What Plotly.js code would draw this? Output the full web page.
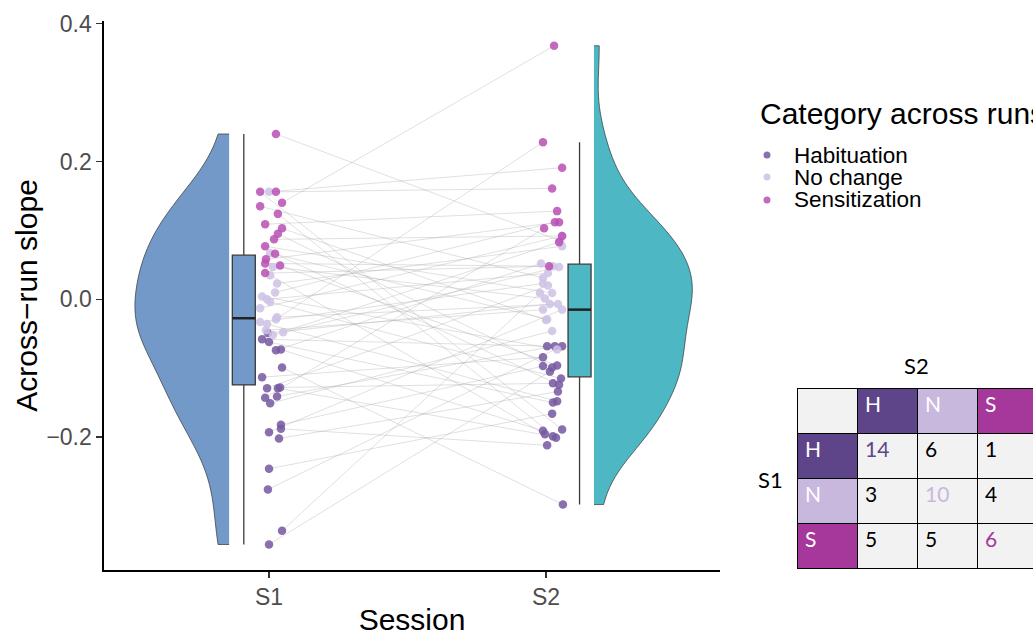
<!DOCTYPE html>
<html><head><meta charset="utf-8">
<script src="https://cdn.plot.ly/plotly-3.0.1.min.js"></script>
<style>html,body{margin:0;padding:0;background:#fff}#chart{width:1033px;height:636px}</style>
</head><body><div id="chart"></div>
<script>
// ---------------- data ----------------
const sessions = ['S1', 'S2'];
const catCodes = ['H', 'N', 'S'];
const catLabels = ['Habituation', 'No change', 'Sensitization'];

// one entry per participant (S1 value paired with S2 value)
const s1Slope = [-0.049,-0.058,-0.062,-0.074,-0.073,-0.099,-0.113,-0.129,-0.129,-0.128,-0.143,-0.141,-0.151,-0.182,-0.188,-0.193,-0.202,-0.246,-0.276,-0.336,-0.356,
  0.156,0.067,0.047,0.035,0.023,0.010,0.004,0.000,-0.004,-0.013,-0.026,-0.029,-0.033,-0.036,-0.048,-0.052,-0.045,
  0.240,0.156,0.156,0.140,0.135,0.124,0.109,0.103,0.095,0.087,0.077,0.066,0.058,0.052,0.049,0.038];
const s1Cat = 'HHHHHHHHHHHHHHHHHHHHHNNNNNNNNNNNNNNNNNSSSSSSSSSSSSSSSS'.split('');
const s2Slope = [-0.007,-0.068,-0.150,0.052,-0.191,-0.298,-0.084,0.020,-0.199,-0.122,0.103,-0.068,-0.046,-0.097,-0.212,-0.015,-0.134,-0.166,-0.068,0.009,-0.105,
  0.191,-0.029,0.001,-0.196,0.077,0.112,-0.073,0.038,-0.115,0.092,-0.007,0.228,0.023,-0.148,0.047,0.083,-0.015,
  0.085,-0.189,0.161,0.368,0.031,-0.201,0.128,-0.030,-0.099,0.092,0.009,-0.124,0.112,0.048,-0.096,0.048];
const s2Cat = ('NHHNHHHNHHSHNHHNHHHNH' + 'SNNHNSNNHNNSNHNSN' + 'NHSSNHSNHSNHSNHS').split('');
// horizontal jitter of each point (in category units)
const s1Jitter = [-0.004,-0.025,0,0.025,0.043,0.047,-0.025,-0.007,0.032,0.040,-0.014,0.029,0.004,0.043,0.043,0,0.036,0,-0.004,0.047,0,
  0,0.004,0.014,0.004,0.029,0.022,-0.025,-0.007,0.004,-0.032,0.029,0.025,-0.032,-0.007,0.051,0.014,-0.011,
  0.025,-0.032,0.025,0.047,-0.032,0.032,-0.014,0.047,0.032,0.018,-0.014,0.022,-0.011,-0.014,0.040,-0.014];
const s2Jitter = [0.014,0.004,0.025,-0.018,-0.011,0.061,-0.011,0.007,0.025,0.025,-0.007,0.032,0.022,-0.011,0.004,0.058,0.043,0.022,0.058,-0.022,0.014,
  0.058,0.004,-0.004,-0.004,0.058,0.032,0.040,0.007,0.054,0.058,0.043,-0.011,-0.011,0.040,0.047,0.047,-0.011,
  0.051,0.058,0.022,0.029,-0.011,0.036,0.040,0,0.022,0.058,0.022,0.047,0.047,0.025,0.040,0.011];

// ---------------- style ----------------
const FONT = 'Liberation Sans, Arial, sans-serif';
const TFONT = 'Lato, Noto Sans, sans-serif';
const W = 1033, H = 636;
const plotL = 104, plotR = 720, plotT = 21, plotB = 570;
const pointColor = {H: 'rgba(118,88,160,0.85)', N: 'rgba(206,194,229,0.85)', S: 'rgba(184,80,180,0.85)'};
const tableColor = {H: '#5E4589', N: '#C9B8DE', S: '#A5389A'};
const sessColor = ['#7399C8', '#4DB8C4'];
const pos = [1, 2];
const boxOff = [-0.091, 0.121], boxW = 0.083;
const violinEdge = [-0.144, 0.173], violinW = [0.68, 0.71];
const violinSide = ['negative', 'positive'];

// ---------------- helpers ----------------
function quant(arr, p) {
  const s = [...arr].sort((a, b) => a - b);
  const h = (s.length - 1) * p, lo = Math.floor(h);
  const hi = Math.min(lo + 1, s.length - 1);
  return s[lo] + (h - lo) * (s[hi] - s[lo]);
}
function boxStats(arr) {
  const q1 = quant(arr, 0.25), med = quant(arr, 0.5), q3 = quant(arr, 0.75);
  const iqr = q3 - q1;
  const inside = arr.filter(v => v >= q1 - 1.5 * iqr && v <= q3 + 1.5 * iqr);
  return {q1, med, q3, lo: Math.min(...inside), hi: Math.max(...inside), iqr};
}
function nrd0(arr) {
  const n = arr.length, m = arr.reduce((a, b) => a + b, 0) / n;
  const sd = Math.sqrt(arr.reduce((a, b) => a + (b - m) * (b - m), 0) / (n - 1));
  const iqr = quant(arr, 0.75) - quant(arr, 0.25);
  return 0.9 * Math.min(sd, iqr / 1.34) * Math.pow(n, -0.2);
}

const sessData = [s1Slope, s2Slope];
const sessCat = [s1Cat, s2Cat];
const sessJit = [s1Jitter, s2Jitter];
const traces = [];

// violins
sessData.forEach((d, i) => {
  traces.push({
    type: 'violin', y: d, x0: pos[i] + violinEdge[i], side: violinSide[i],
    width: violinW[i], scalemode: 'width', scalegroup: 'g' + i,
    bandwidth: nrd0(d), spanmode: 'hard', points: false,
    box: {visible: false}, meanline: {visible: false},
    fillcolor: sessColor[i], opacity: 1,
    line: {color: '#333333', width: 0.7},
    hoverinfo: 'skip', showlegend: false
  });
});
// boxes
sessData.forEach((d, i) => {
  const st = boxStats(d);
  const bx = pos[i] + boxOff[i];
  traces.push({
    type: 'box', x: [bx], q1: [st.q1], median: [st.med], q3: [st.q3],
    lowerfence: [st.lo], upperfence: [st.hi], width: boxW, whiskerwidth: 0,
    boxpoints: false, fillcolor: sessColor[i],
    line: {color: '#3a3a3a', width: 1.3}, hoverinfo: 'skip', showlegend: false
  });
  traces.push({
    type: 'scatter', mode: 'lines', x: [bx - boxW / 2, bx + boxW / 2], y: [st.med, st.med],
    line: {color: '#222222', width: 2.5}, hoverinfo: 'skip', showlegend: false
  });
});
// connecting lines
const lx = [], ly = [];
s1Slope.forEach((v, k) => {
  lx.push(pos[0] + s1Jitter[k], pos[1] + s2Jitter[k], null);
  ly.push(v, s2Slope[k], null);
});
traces.push({type: 'scatter', mode: 'lines', x: lx, y: ly,
  line: {color: 'rgba(160,160,160,0.55)', width: 0.6}, hoverinfo: 'skip', showlegend: false});
// points
sessData.forEach((d, i) => {
  catCodes.forEach((c, ci) => {
    const xs = [], ys = [];
    d.forEach((v, k) => { if (sessCat[i][k] === c) { xs.push(pos[i] + sessJit[i][k]); ys.push(v); } });
    traces.push({type: 'scatter', mode: 'markers', x: xs, y: ys, name: catLabels[ci],
      marker: {color: pointColor[c], size: 8.5, line: {width: 0}}, showlegend: false});
  });
});
// transition table (counts from the paired categories)
const counts = catCodes.map(a => catCodes.map(b => s1Cat.filter((v, k) => v === a && s2Cat[k] === b).length));
const tableCols = [catCodes].concat(catCodes.map((c, j) => counts.map(r => r[j])));
const cellFill = [catCodes.map(c => tableColor[c])].concat(catCodes.map(() => ['#F2F2F2', '#F2F2F2', '#F2F2F2']));
const cellFont = [catCodes.map(() => '#ffffff')].concat(catCodes.map((c, j) => catCodes.map((r, i) => i === j ? tableColor[c] : '#000000')));
traces.push({
  type: 'table',
  domain: {x: [797 / W, 1], y: [0.05, (H - 388) / H]},
  columnwidth: [60, 60, 60, 56],
  header: {values: [''].concat(catCodes), height: 45, align: 'left',
    fill: {color: ['#F2F2F2'].concat(catCodes.map(c => tableColor[c]))},
    font: {family: TFONT, size: 21, color: ['#000'].concat(catCodes.map(() => '#ffffff'))},
    line: {color: '#000', width: 1}},
  cells: {values: tableCols, height: 45, align: 'left',
    fill: {color: cellFill}, font: {family: TFONT, size: 21, color: cellFont},
    line: {color: '#000', width: 1}}
});

// manual legend
const legX = 767, legTextX = 792, legY = [155, 177, 200];
const shapes = catCodes.map((c, i) => ({
  type: 'circle', xref: 'paper', yref: 'paper', xsizemode: 'pixel', ysizemode: 'pixel',
  xanchor: legX / W, yanchor: 1 - legY[i] / H, x0: -3.5, x1: 3.5, y0: -3.5, y1: 3.5,
  fillcolor: pointColor[c], line: {width: 0}
}));
const annotations = [
  {text: 'Category across runs', x: 758 / W, y: 1 - 113 / H, xref: 'paper', yref: 'paper',
   xanchor: 'left', yanchor: 'middle', showarrow: false, font: {family: FONT, size: 30, color: '#000'}},
  ...catLabels.map((t, i) => ({text: t, x: legTextX / W, y: 1 - legY[i] / H, xref: 'paper', yref: 'paper',
   xanchor: 'left', yanchor: 'middle', showarrow: false, font: {family: FONT, size: 22.5, color: '#000'}})),
  {text: sessions[1], x: 916 / W, y: 1 - 365 / H, xref: 'paper', yref: 'paper', xanchor: 'center', yanchor: 'middle',
   showarrow: false, font: {family: TFONT, size: 22, color: '#000'}},
  {text: sessions[0], x: 770 / W, y: 1 - 479 / H, xref: 'paper', yref: 'paper', xanchor: 'center', yanchor: 'middle',
   showarrow: false, font: {family: TFONT, size: 22, color: '#000'}}
];

const layout = {
  width: W, height: H, margin: {l: 0, r: 0, t: 0, b: 0, autoexpand: false},
  paper_bgcolor: '#fff', plot_bgcolor: '#fff', showlegend: false,
  violinmode: 'overlay', boxmode: 'overlay',
  font: {family: FONT, color: '#000'},
  xaxis: {domain: [plotL / W, plotR / W], range: [0.4043, 2.628], tickvals: pos, ticktext: sessions,
    showgrid: false, zeroline: false, showline: true, linecolor: '#000', linewidth: 1.6,
    ticks: 'outside', ticklen: 6, tickcolor: '#333', tickwidth: 1.3,
    tickfont: {family: FONT, size: 23, color: '#4D4D4D'},
    title: {text: 'Session', font: {family: FONT, size: 30, color: '#000'}, standoff: 15}},
  yaxis: {domain: [(H - plotB) / H, (H - plotT) / H], range: [-0.393, 0.404], tickvals: [-0.2, 0, 0.2, 0.4],
    tickformat: '.1f', showgrid: false, zeroline: false, showline: true, linecolor: '#000', linewidth: 1.6,
    ticks: 'outside', ticklen: 6, tickcolor: '#333', tickwidth: 1.3,
    tickfont: {family: FONT, size: 23, color: '#4D4D4D'},
    title: {text: 'Across\u2212run slope', font: {family: FONT, size: 30, color: '#000'}, standoff: 0}},
  shapes, annotations
};
Plotly.newPlot('chart', traces, layout, {displayModeBar: false, staticPlot: true});
</script></body></html>
